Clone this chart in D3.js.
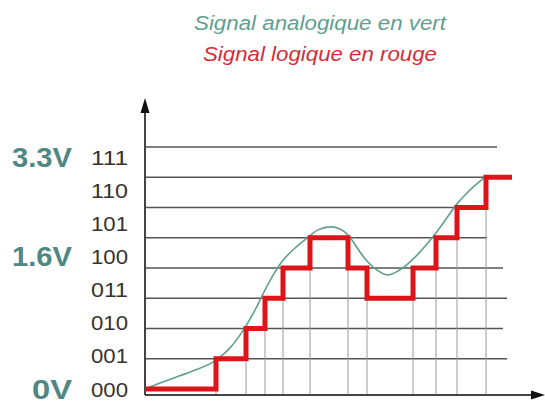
<!DOCTYPE html>
<html>
<head>
<meta charset="utf-8">
<script src="https://cdn.jsdelivr.net/npm/d3@7"></script>
<style>
  html, body { margin: 0; padding: 0; background: #fff; }
  svg { display: block; }
</style>
</head>
<body>
<svg id="chart" width="545" height="405"></svg>
<script>
// ---- data ----
// Quantisation codes (3-bit) and the voltages they stand for
const codeLabels = ["000", "001", "010", "011", "100", "101", "110", "111"];
const voltLabels = [{ code: 0, text: "0V" }, { code: 4, text: "1.6V" }, { code: 7, text: "3.3V" }];

// Sampling instants (time units) and the code held after each sample
const sampleTimes = [0, 17.75, 25.25, 30, 34.5, 41.25, 50.75, 55.5, 67, 72.75, 78, 85.25];
const sampleCodes = [0, 1, 2, 3, 4, 5, 4, 3, 4, 5, 6, 7];
const endTime = 91.75;

// Analog signal (time, level in code units)
const analogTime = [0, 3.75, 11.25, 17, 21.25, 24.25, 27.5, 30, 32.5, 34.5, 37.5, 40.5, 43.25, 46.25,
  48.75, 50.75, 53.75, 55.5, 58, 60.5, 63.25, 66.75, 72.75, 78, 81.25, 85.25];
const analogLevel = [0, 0.2, 0.56, 0.89, 1.36, 1.88, 2.61, 3.27, 3.87, 4.26, 4.66, 4.99, 5.26, 5.36,
  5.29, 5.09, 4.53, 4.23, 3.93, 3.77, 3.9, 4.26, 5.16, 6.12, 6.58, 7.04];

// Horizontal reference lines, one per level boundary, with their right ends
const gridLevels = [1, 2, 3, 4, 5, 6, 7, 8];
const gridEnds = [90.5, 89.5, 90.5, 89.5, 85.5, 85.5, 85.5, 88];

const titles = [
  { text: "Signal analogique en vert", color: "#5f9f8e", width: 252 },
  { text: "Signal logique en rouge", color: "#d62c38", width: 234 }
];

// ---- scales ----
const svg = d3.select("#chart");
const x = d3.scaleLinear().domain([0, 100]).range([145, 545]);
const y = d3.scaleLinear().domain([0, 8]).range([389, 147]);
const yLabel = d3.scaleLinear().domain([0, 7]).range([389, 157]);
const axisY = 395;

// ---- titles ----
svg.append("g").selectAll("text").data(titles).join("text")
  .attr("x", 320 - 0)
  .attr("y", (d, i) => 30 + i * 31)
  .attr("text-anchor", "middle")
  .attr("font-family", "Liberation Sans, Arial, sans-serif")
  .attr("font-style", "italic")
  .attr("font-size", 19.5)
  .attr("textLength", d => d.width)
  .attr("lengthAdjust", "spacingAndGlyphs")
  .attr("fill", d => d.color)
  .text(d => d.text);

// ---- horizontal grid lines ----
svg.append("g").selectAll("line").data(gridLevels).join("line")
  .attr("x1", x(0)).attr("x2", (d, i) => x(gridEnds[i]))
  .attr("y1", d => y(d)).attr("y2", d => y(d))
  .attr("stroke", "#555").attr("stroke-width", 1.5);

// ---- vertical lines at the sampling instants ----
const sampleIdx = d3.range(1, sampleTimes.length);
svg.append("g").selectAll("line").data(sampleIdx).join("line")
  .attr("x1", i => x(sampleTimes[i])).attr("x2", i => x(sampleTimes[i]))
  .attr("y1", i => y(Math.max(sampleCodes[i], sampleCodes[i - 1])))
  .attr("y2", axisY)
  .attr("stroke", "#9a9a9a").attr("stroke-width", 1);

// ---- axes with arrow heads ----
const axes = svg.append("g");
axes.append("line")
  .attr("x1", x(0)).attr("x2", 535).attr("y1", axisY).attr("y2", axisY)
  .attr("stroke", "#444").attr("stroke-width", 2);
axes.append("line")
  .attr("x1", x(0)).attr("x2", x(0)).attr("y1", axisY).attr("y2", 110)
  .attr("stroke", "#444").attr("stroke-width", 2);
axes.append("path")
  .attr("d", d3.line()([[x(0) - 4.5, 113], [x(0), 98], [x(0) + 4.5, 113]]) + "Z")
  .attr("fill", "#111");
axes.append("path")
  .attr("d", d3.line()([[531, axisY - 4.5], [545, axisY], [531, axisY + 4.5]]) + "Z")
  .attr("fill", "#111");

// ---- analog signal ----
const analog = analogTime.map((t, i) => [t, analogLevel[i]]);
svg.append("path")
  .datum(analog)
  .attr("d", d3.line().x(d => x(d[0])).y(d => y(d[1])).curve(d3.curveCatmullRom))
  .attr("fill", "none")
  .attr("stroke", "#5f9f8e")
  .attr("stroke-width", 1.6);

// ---- quantised (logic) signal ----
const logic = sampleTimes.map((t, i) => [t, sampleCodes[i]]);
logic.push([endTime, sampleCodes[sampleCodes.length - 1]]);
svg.append("path")
  .datum(logic)
  .attr("d", d3.line().x(d => x(d[0])).y(d => y(d[1])).curve(d3.curveStepAfter))
  .attr("fill", "none")
  .attr("stroke", "#dd1418")
  .attr("stroke-width", 5)
  .attr("stroke-linejoin", "miter");

// ---- code labels ----
svg.append("g").selectAll("text").data(codeLabels).join("text")
  .attr("x", 128)
  .attr("y", (d, i) => yLabel(i))
  .attr("dy", "0.36em")
  .attr("text-anchor", "end")
  .attr("font-family", "Liberation Sans, Arial, sans-serif")
  .attr("font-size", 21)
  .attr("textLength", 37)
  .attr("lengthAdjust", "spacingAndGlyphs")
  .attr("fill", "#333")
  .text(d => d);

// ---- voltage labels ----
svg.append("g").selectAll("text").data(voltLabels).join("text")
  .attr("x", 72)
  .attr("y", d => yLabel(d.code))
  .attr("dy", "0.36em")
  .attr("text-anchor", "end")
  .attr("font-family", "Liberation Sans, Arial, sans-serif")
  .attr("font-weight", "bold")
  .attr("font-size", 27)
  .attr("textLength", d => d.text.length === 2 ? 40 : 60)
  .attr("lengthAdjust", "spacingAndGlyphs")
  .attr("fill", "#4f8784")
  .text(d => d.text);
</script>
</body>
</html>
